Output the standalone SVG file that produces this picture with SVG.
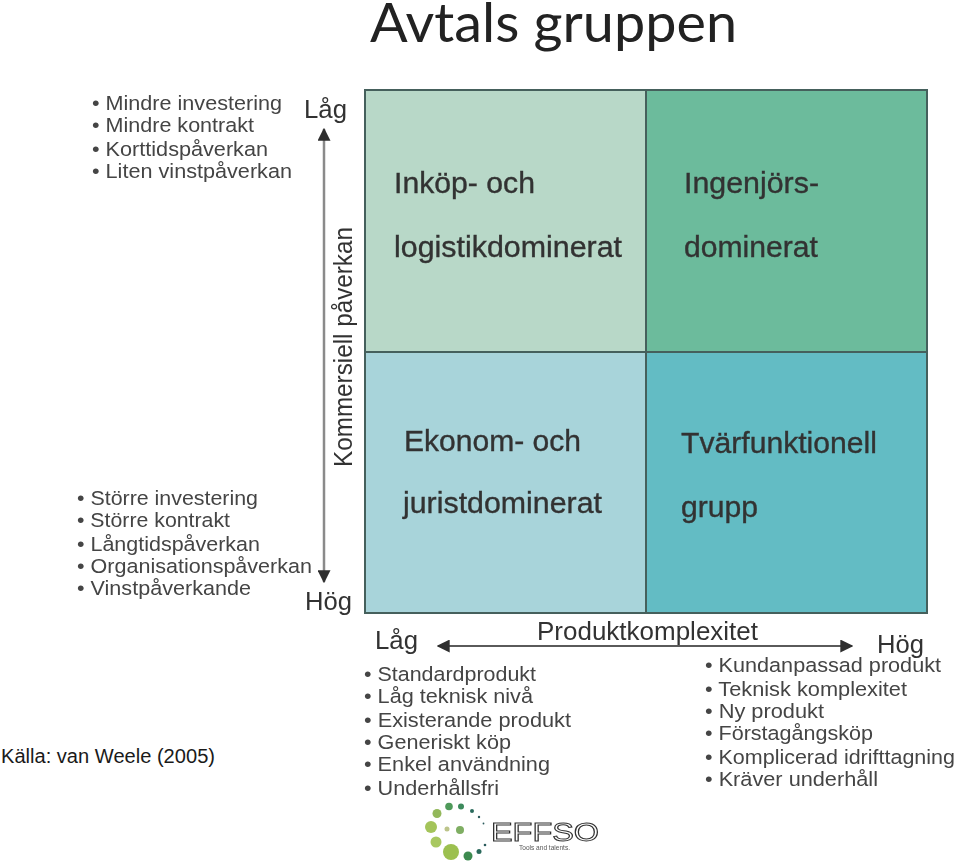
<svg xmlns="http://www.w3.org/2000/svg" width="960" height="867" viewBox="0 0 960 867">
<style>
text{font-family:"Liberation Sans",Arial,sans-serif;fill:#3a3a3a}
.li{font-size:20.500px;fill:#444}
.ax{font-size:25px;fill:#333}
.q{font-size:29px;fill:#333;stroke:#333;stroke-width:.35}
.cell{stroke:#45615c;stroke-width:2}
.v{stroke:#8a8a8a;stroke-width:2.500;fill:none}
.h{stroke:#5a5a5a;stroke-width:2;fill:none}
</style>
<defs>
<marker id="ah" viewBox="0 0 10 10" refX="9" refY="5" markerWidth="13" markerHeight="13" markerUnits="userSpaceOnUse" orient="auto-start-reverse"><path d="M0 0L10 5L0 10Z" fill="#2e2e2e"/></marker>
<filter id="b" x="-5%" y="-5%" width="110%" height="110%"><feGaussianBlur stdDeviation="0.55"/></filter>
</defs>
<rect width="960" height="867" fill="#fff"/>
<text id="title" x="370" y="42" style="font-family:Lato,'Open Sans',sans-serif;font-size:54px;fill:#222" textLength="367" lengthAdjust="spacingAndGlyphs">Avtals gruppen</text>
<text id="source" x="1" y="763" style="font-size:19.500px;fill:#1a1a1a" textLength="214" lengthAdjust="spacingAndGlyphs">Källa: van Weele (2005)</text>
<g filter="url(#b)">
<g id="q1"><rect class="cell" x="365" y="90" width="281" height="262" fill="#b8d8c8"/><text class="q" x="394" y="193" textLength="141" lengthAdjust="spacingAndGlyphs">Inköp- och</text><text class="q" x="394" y="257" textLength="228" lengthAdjust="spacingAndGlyphs">logistikdominerat</text></g>
<g id="q2"><rect class="cell" x="646" y="90" width="281" height="262" fill="#6cbb9c"/><text class="q" x="684" y="193" textLength="135" lengthAdjust="spacingAndGlyphs">Ingenjörs-</text><text class="q" x="684" y="257" textLength="134" lengthAdjust="spacingAndGlyphs">dominerat</text></g>
<g id="q3"><rect class="cell" x="365" y="352" width="281" height="261" fill="#a8d4da"/><text class="q" x="404" y="451" textLength="177" lengthAdjust="spacingAndGlyphs">Ekonom- och</text><text class="q" x="403" y="513" textLength="199" lengthAdjust="spacingAndGlyphs">juristdominerat</text></g>
<g id="q4"><rect class="cell" x="646" y="352" width="281" height="261" fill="#64bcc4"/><text class="q" x="681" y="453" textLength="196" lengthAdjust="spacingAndGlyphs">Tvärfunktionell</text><text class="q" x="681" y="517" textLength="77" lengthAdjust="spacingAndGlyphs">grupp</text></g>
<g id="connectors">
<line class="v" x1="324" y1="129" x2="324" y2="582" marker-start="url(#ah)" marker-end="url(#ah)"/>
<line class="h" x1="438" y1="646" x2="852" y2="646" marker-start="url(#ah)" marker-end="url(#ah)"/>
</g>
<g id="axis-y">
<text class="ax" x="304" y="118" textLength="43" lengthAdjust="spacingAndGlyphs">Låg</text>
<text class="ax" x="305" y="610" textLength="47" lengthAdjust="spacingAndGlyphs">Hög</text>
<text class="ax" transform="translate(352 467) rotate(-90)" textLength="240" lengthAdjust="spacingAndGlyphs">Kommersiell påverkan</text>
</g>
<g id="axis-x">
<text class="ax" x="375" y="649" textLength="43" lengthAdjust="spacingAndGlyphs">Låg</text>
<text class="ax" x="877" y="653" textLength="47" lengthAdjust="spacingAndGlyphs">Hög</text>
<text class="ax" x="537" y="640" textLength="221" lengthAdjust="spacingAndGlyphs">Produktkomplexitet</text>
</g>
<g id="list-top-left">
<text class="li" x="92" y="110" textLength="190" lengthAdjust="spacingAndGlyphs">• Mindre investering</text>
<text class="li" x="92" y="132" textLength="162" lengthAdjust="spacingAndGlyphs">• Mindre kontrakt</text>
<text class="li" x="92" y="156" textLength="176" lengthAdjust="spacingAndGlyphs">• Korttidspåverkan</text>
<text class="li" x="92" y="178" textLength="200" lengthAdjust="spacingAndGlyphs">• Liten vinstpåverkan</text>
</g>
<g id="list-bottom-left">
<text class="li" x="77" y="505" textLength="181" lengthAdjust="spacingAndGlyphs">• Större investering</text>
<text class="li" x="77" y="527" textLength="153" lengthAdjust="spacingAndGlyphs">• Större kontrakt</text>
<text class="li" x="77" y="551" textLength="183" lengthAdjust="spacingAndGlyphs">• Långtidspåverkan</text>
<text class="li" x="77" y="573" textLength="235" lengthAdjust="spacingAndGlyphs">• Organisationspåverkan</text>
<text class="li" x="77" y="595" textLength="174" lengthAdjust="spacingAndGlyphs">• Vinstpåverkande</text>
</g>
<g id="list-bottom-middle">
<text class="li" x="364" y="681" textLength="172" lengthAdjust="spacingAndGlyphs">• Standardprodukt</text>
<text class="li" x="364" y="703" textLength="169" lengthAdjust="spacingAndGlyphs">• Låg teknisk nivå</text>
<text class="li" x="364" y="727" textLength="207" lengthAdjust="spacingAndGlyphs">• Existerande produkt</text>
<text class="li" x="364" y="749" textLength="147" lengthAdjust="spacingAndGlyphs">• Generiskt köp</text>
<text class="li" x="364" y="771" textLength="186" lengthAdjust="spacingAndGlyphs">• Enkel användning</text>
<text class="li" x="364" y="795" textLength="135" lengthAdjust="spacingAndGlyphs">• Underhållsfri</text>
</g>
<g id="list-bottom-right">
<text class="li" x="705" y="672" textLength="236" lengthAdjust="spacingAndGlyphs">• Kundanpassad produkt</text>
<text class="li" x="705" y="696" textLength="202" lengthAdjust="spacingAndGlyphs">• Teknisk komplexitet</text>
<text class="li" x="705" y="718" textLength="119" lengthAdjust="spacingAndGlyphs">• Ny produkt</text>
<text class="li" x="705" y="740" textLength="168" lengthAdjust="spacingAndGlyphs">• Förstagångsköp</text>
<text class="li" x="705" y="764" textLength="250" lengthAdjust="spacingAndGlyphs">• Komplicerad idrifttagning</text>
<text class="li" x="705" y="786" textLength="173" lengthAdjust="spacingAndGlyphs">• Kräver underhåll</text>
</g>
<g id="logo">
<circle cx="437" cy="813.500" r="4.500" fill="#93b85a"/><circle cx="449" cy="806.500" r="3.800" fill="#4f9a5a"/><circle cx="461" cy="806.500" r="3" fill="#3c8a5c"/><circle cx="472" cy="811" r="2" fill="#2c6a5c"/><circle cx="479" cy="817" r="1.200" fill="#2c5a5c"/><circle cx="483.500" cy="823.500" r=".9" fill="#2c5a5c"/><circle cx="431" cy="827" r="6" fill="#a4c45a"/><circle cx="447" cy="829" r="2.500" fill="#bcc48a"/><circle cx="460" cy="830" r="4" fill="#7fae62"/><circle cx="436" cy="842" r="5.500" fill="#a8c860"/><circle cx="451" cy="852" r="8" fill="#9cc050"/><circle cx="468" cy="856" r="4.500" fill="#3c8a50"/><circle cx="479" cy="851.500" r="2.500" fill="#2c6a5c"/><circle cx="485" cy="845" r="1.300" fill="#2c5a5c"/>
<text x="491" y="841" style="font-size:25px;fill:none;stroke:#333;stroke-width:1" textLength="108" lengthAdjust="spacingAndGlyphs">EFFSO</text>
<text x="519" y="850" style="font-size:6.500px;fill:#555" textLength="51" lengthAdjust="spacingAndGlyphs">Tools and talents.</text>
</g>
</g>
</svg>
